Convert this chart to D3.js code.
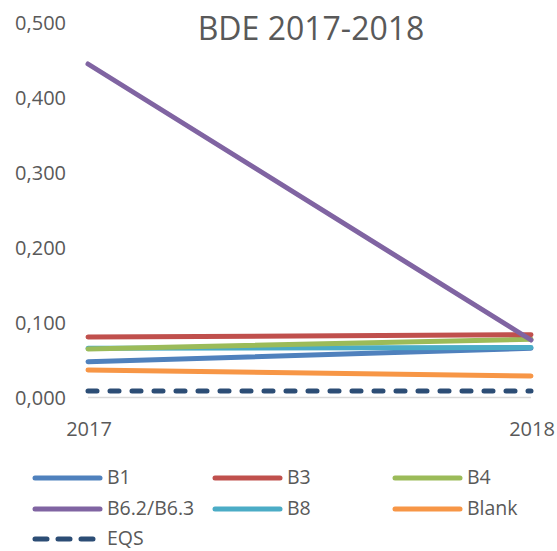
<html>
<head>
  <meta charset="utf-8">
  <style>
    body { margin: 0; background: #fff; }
    text { font-family: "Open Sans", sans-serif; fill: #595959; }
    .series { fill: none; stroke-width: 5; stroke-linecap: round; }
  </style>
</head>
<body>
<script src="https://d3js.org/d3.v7.min.js"></script>
<script>
  var years = ["2017", "2018"];
  var seriesNames = ["B1", "B3", "B4", "B6.2/B6.3", "B8", "Blank", "EQS"];
  var B1 = [0.047, 0.065];
  var B3 = [0.080, 0.083];
  var B4 = [0.064, 0.077];
  var B6 = [0.444, 0.076];
  var B8 = [0.065, 0.066];
  var Blank = [0.036, 0.028];
  var EQS = [0.008, 0.008];
  var yTicks = [0, 0.1, 0.2, 0.3, 0.4, 0.5];
  var colors = ["#4f81bd", "#c0504d", "#9bbb59", "#8064a2", "#4bacc6", "#f79646", "#2c4d75"];
  var allValues = [B1, B3, B4, B6, B8, Blank, EQS];

  var width = 557, height = 551;
  var svg = d3.select("body").append("svg")
    .attr("width", width)
    .attr("height", height);

  var x = d3.scalePoint().domain(years).range([88, 531]);
  var y = d3.scaleLinear().domain([0, 0.5]).range([397, 22]);

  svg.append("text")
    .attr("x", 311).attr("y", 40)
    .attr("text-anchor", "middle")
    .style("font-size", "32px")
    .text("BDE 2017-2018");

  // y labels
  svg.append("g").selectAll("text")
    .data(yTicks).enter().append("text")
    .attr("x", 66).attr("y", function (d) { return y(d) + 7.5; })
    .attr("text-anchor", "end")
    .style("font-size", "20px")
    .text(function (d) { return d.toFixed(3).replace(".", ","); });

  // baseline
  svg.append("line")
    .attr("x1", x("2017")).attr("x2", x("2018"))
    .attr("y1", y(0) + 0.5).attr("y2", y(0) + 0.5)
    .attr("stroke", "#d9d9d9").attr("stroke-width", 1.5);

  // x labels
  svg.append("g").selectAll("text")
    .data(years).enter().append("text")
    .attr("x", function (d) { return x(d) + 1; })
    .attr("y", 436)
    .attr("text-anchor", "middle")
    .style("font-size", "20px")
    .text(function (d) { return d; });

  var line = d3.line()
    .x(function (d, i) { return x(years[i]); })
    .y(function (d) { return y(d); });

  var order = [6, 5, 0, 4, 2, 1, 3];
  order.forEach(function (k) {
    var p = svg.append("path")
      .datum(allValues[k])
      .attr("class", "series")
      .attr("stroke", colors[k])
      .attr("d", line);
    if (seriesNames[k] == "EQS") {
      p.attr("stroke-dasharray", "9,13").attr("stroke-linecap", "round");
    }
  });

  // legend
  var colX = [35, 215, 395];
  var rowY = [478, 509, 539];
  var leg = svg.append("g").selectAll("g")
    .data(seriesNames).enter().append("g")
    .attr("transform", function (d, i) {
      return "translate(" + colX[i % 3] + "," + rowY[Math.floor(i / 3)] + ")";
    });
  leg.append("line")
    .attr("x1", 0).attr("x2", 65)
    .attr("y1", 0).attr("y2", 0)
    .attr("stroke", function (d, i) { return colors[i]; })
    .attr("stroke-width", 5)
    .attr("stroke-linecap", "round")
    .attr("stroke-dasharray", function (d) { return d == "EQS" ? "12,11" : null; });
  leg.append("text")
    .attr("x", 72).attr("y", 6)
    .style("font-size", "19.5px")
    .text(function (d) { return d; });
</script>
</body>
</html>
